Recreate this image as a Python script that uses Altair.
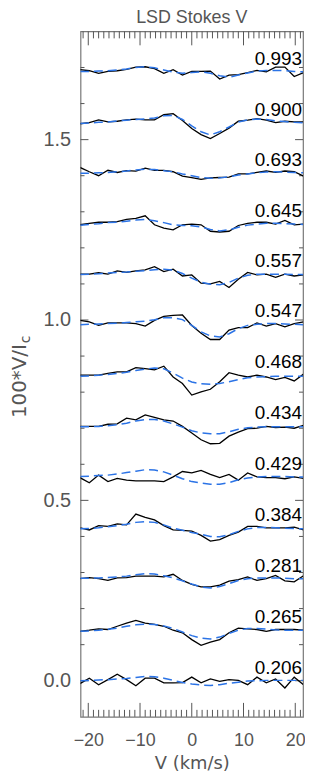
import altair as alt
import pandas as pd

# velocity grid (km/s)
velocity = [-21.6, -19.8, -18.0, -16.2, -14.4, -12.6, -10.8, -9.0, -7.2, -5.4, -3.6, -1.8,
            0.0, 1.8, 3.6, 5.4, 7.2, 9.0, 10.8, 12.6, 14.4, 16.2, 18.0, 19.8, 21.6]

# rotational phases, bottom to top, and vertical offsets of each profile
phases = ["0.206", "0.265", "0.281", "0.384", "0.429", "0.434", "0.468",
          "0.547", "0.557", "0.645", "0.693", "0.900", "0.993"]
offsets = [0.0, 0.14, 0.283, 0.423, 0.565, 0.705, 0.847, 0.99, 1.127, 1.266, 1.408, 1.547, 1.689]

# observed LSD Stokes V (100*V/Ic), relative to offset
obs = {
    "0.993": [0.005, 0.002, -0.005, 0, 0.002, 0.006, 0.012, 0.013, 0.008, -0.005, 0.005, -0.010, 0,
              0, 0.001, -0.021, -0.010, -0.009, -0.003, 0.003, -0.001, 0.012, 0.012, -0.014, -0.003],
    "0.900": [-0.003, 0, 0.008, 0.002, 0.004, 0.008, 0.010, 0.008, 0.008, 0.022, 0.025, 0.006, -0.016,
              -0.033, -0.044, -0.030, -0.015, 0.004, 0.007, 0.011, 0.007, 0, 0.004, 0.002, 0.002],
    "0.693": [0.015, 0.003, -0.008, 0.007, 0.001, 0.006, 0.005, 0.013, 0.007, 0.007, 0.003, -0.009, -0.013,
              -0.018, -0.014, -0.013, -0.012, -0.003, -0.003, 0.001, 0.005, 0.001, 0.005, 0.003, -0.009],
    "0.645": [-0.002, 0.002, 0.005, 0.005, 0.007, 0.013, 0.016, 0.023, -0.002, -0.011, -0.016, -0.002, 0,
              -0.002, -0.020, -0.022, -0.020, -0.004, 0.002, 0.005, 0.005, 0, 0.010, -0.002, 0],
    "0.557": [0, 0, 0.004, 0, 0.009, 0.005, 0.009, 0.012, 0.021, 0.007, 0.014, -0.005, -0.002,
              -0.025, -0.027, -0.020, -0.037, -0.014, 0.005, -0.002, 0, -0.009, 0, -0.005, -0.002],
    "0.547": [0.009, 0.005, -0.005, 0.002, 0.002, 0.002, 0, -0.007, 0.009, 0.020, 0.023, 0.024, -0.005,
              -0.027, -0.044, -0.044, -0.018, -0.011, -0.011, 0.002, -0.007, 0, -0.009, 0, 0.005],
    "0.468": [0, 0, 0, 0.005, 0.009, 0.009, 0.021, 0.018, 0.015, 0.025, -0.005, -0.023, -0.055,
              -0.046, -0.039, -0.018, 0.007, 0, -0.005, 0, -0.005, -0.012, -0.006, -0.016, 0.003],
    "0.434": [0, 0, 0, 0.006, 0.007, 0.023, 0.018, 0.032, 0.025, 0.018, 0.015, 0, -0.018,
              -0.037, -0.048, -0.047, -0.027, -0.016, -0.006, -0.005, 0, -0.003, -0.002, -0.005, 0.003],
    "0.429": [-0.002, -0.016, 0.005, -0.013, -0.004, -0.009, -0.011, -0.011, -0.011, -0.013, 0, 0.015, 0.011,
              0.018, 0.007, -0.002, 0.007, -0.009, 0.011, 0, -0.002, -0.002, -0.005, 0, -0.004],
    "0.384": [0.001, -0.005, 0.007, 0.005, 0.012, 0.009, 0.039, 0.030, 0.023, 0.007, -0.005, -0.006, -0.008,
              -0.020, -0.036, -0.032, -0.020, -0.011, 0.005, 0.005, 0.001, 0.001, 0.001, 0.003, -0.005],
    "0.281": [0, 0.003, 0, -0.005, 0.002, 0.003, 0.007, 0.007, 0.007, 0.005, 0.012, -0.005, -0.016,
              -0.023, -0.023, -0.018, -0.007, -0.003, 0.005, -0.005, 0, 0.009, -0.006, -0.009, 0.008],
    "0.265": [-0.003, 0, 0.004, 0.002, 0.011, 0.020, 0.027, 0.020, 0.016, 0.011, 0, -0.007, -0.026,
              -0.042, -0.033, -0.026, -0.007, 0.006, 0.004, 0.002, -0.003, 0.002, 0.002, 0.002, 0],
    "0.206": [-0.008, 0.007, -0.011, 0.003, 0.018, 0.003, -0.014, 0.007, 0.007, -0.006, -0.006, -0.005, 0.010,
              -0.006, 0.005, -0.002, 0.003, 0.001, -0.011, 0.010, -0.006, 0.005, -0.020, 0.010, -0.011],
}

# model Stokes V fits, relative to offset
model = {
    "0.993": [0, 0, 0.001, 0.002, 0.004, 0.007, 0.011, 0.013, 0.010, 0.004, -0.002, -0.005, -0.003,
              -0.001, -0.005, -0.012, -0.016, -0.010, -0.004, 0.001, 0.003, 0.003, 0.002, 0, -0.001],
    "0.900": [-0.002, -0.001, 0.001, 0.002, 0.005, 0.007, 0.009, 0.010, 0.013, 0.019, 0.020, 0.009, -0.009,
              -0.025, -0.034, -0.025, -0.012, 0.002, 0.008, 0.010, 0.009, 0.005, 0.003, 0.001, 0],
    "0.693": [-0.001, -0.001, 0, 0.001, 0.003, 0.005, 0.008, 0.010, 0.009, 0.006, 0.003, -0.003, -0.008,
              -0.013, -0.015, -0.014, -0.011, -0.006, -0.003, 0, 0.002, 0.003, 0.002, 0.001, 0],
    "0.645": [-0.003, -0.001, 0.001, 0.004, 0.005, 0.008, 0.011, 0.013, 0.009, 0.004, -0.002, -0.004, -0.005,
              -0.008, -0.015, -0.019, -0.016, -0.009, -0.003, 0, 0.002, 0.002, 0.001, 0, -0.001],
    "0.557": [-0.001, 0, 0.001, 0.003, 0.005, 0.006, 0.008, 0.010, 0.012, 0.014, 0.011, 0.002, -0.011,
              -0.022, -0.028, -0.029, -0.023, -0.011, -0.003, 0, 0, 0, 0, -0.001, -0.001],
    "0.547": [-0.003, -0.002, -0.001, 0, 0.001, 0.003, 0.005, 0.007, 0.011, 0.016, 0.016, 0.011, -0.005,
              -0.023, -0.034, -0.037, -0.028, -0.014, -0.005, -0.002, 0, 0, -0.001, -0.002, -0.003],
    "0.468": [-0.003, -0.002, 0, 0.002, 0.005, 0.008, 0.013, 0.017, 0.020, 0.018, 0.006, -0.008, -0.019,
              -0.024, -0.025, -0.023, -0.018, -0.012, -0.007, -0.005, -0.004, -0.003, -0.003, -0.003, -0.003],
    "0.434": [-0.001, -0.001, 0, 0.002, 0.005, 0.009, 0.015, 0.019, 0.019, 0.015, 0.007, -0.002, -0.012,
              -0.018, -0.020, -0.020, -0.015, -0.008, -0.004, -0.002, -0.001, -0.001, -0.001, -0.001, -0.001],
    "0.429": [0.001, 0.002, 0.004, 0.005, 0.008, 0.012, 0.016, 0.020, 0.019, 0.014, 0.005, -0.005, -0.013,
              -0.017, -0.020, -0.020, -0.016, -0.008, -0.003, 0, 0.001, 0.001, 0.001, 0, 0],
    "0.384": [-0.002, -0.001, 0.001, 0.004, 0.007, 0.011, 0.016, 0.018, 0.016, 0.009, 0, -0.006, -0.012,
              -0.017, -0.023, -0.024, -0.018, -0.009, -0.002, 0.002, 0.002, 0.001, 0, -0.001, -0.002],
    "0.281": [0.001, 0.001, 0.002, 0.003, 0.005, 0.007, 0.011, 0.014, 0.013, 0.008, 0.002, -0.006, -0.015,
              -0.023, -0.026, -0.022, -0.014, -0.005, 0, 0.002, 0.002, 0.002, 0.001, 0, 0],
    "0.265": [-0.003, -0.002, 0, 0.003, 0.006, 0.011, 0.015, 0.017, 0.016, 0.012, 0.005, -0.005, -0.015,
              -0.022, -0.024, -0.019, -0.009, 0, 0.005, 0.005, 0.003, 0.001, 0, 0, 0],
    "0.206": [0, 0.001, 0.002, 0.003, 0.005, 0.006, 0.009, 0.012, 0.011, 0.007, 0.001, -0.005, -0.009,
              -0.012, -0.013, -0.011, -0.007, -0.004, -0.001, 0, 0.001, 0.001, 0.001, 0.001, 0.001],
}

x_major = [-20, -10, 0, 10, 20]
x_minor = [-21, -19, -18, -17, -16, -15, -14, -13, -12, -11, -9, -8, -7, -6, -5, -4, -3, -2, -1,
           1, 2, 3, 4, 5, 6, 7, 8, 9, 11, 12, 13, 14, 15, 16, 17, 18, 19, 21]
y_major = [0.0, 0.5, 1.0, 1.5]
y_minor = [0.1, 0.2, 0.3, 0.4, 0.6, 0.7, 0.8, 0.9, 1.1, 1.2, 1.3, 1.4, 1.6, 1.7]

W, H = 224, 690
FONT = "DejaVu Sans"
NUMFONT = "Liberation Sans"
GREY = "#555555"
BLUE = "#2b73e6"

rows = []
for ph, off in zip(phases, offsets):
    for v, o, m in zip(velocity, obs[ph], model[ph]):
        rows.append({"phase": ph, "v": v, "obs": off + o, "model": off + m})
df = pd.DataFrame(rows)
lab = pd.DataFrame({"phase": phases, "offset": offsets})

xs = alt.Scale(domain=[-21.5, 21.5], nice=False, zero=False)
ys = alt.Scale(domain=[-0.1, 1.8], nice=False, zero=False)

X = alt.X("v:Q", scale=xs, title="V (km/s)",
          axis=alt.Axis(values=x_major, ticks=False, domain=False, grid=False,
                        labelFontSize=18, labelPadding=15, labelColor=GREY, labelFont=NUMFONT,
                        titleFont=FONT, titleFontSize=18, titleFontWeight="normal",
                        titleColor=GREY, titleBaseline="alphabetic", titleY=52))
Y = alt.Y("obs:Q", scale=ys, title=None,
          axis=alt.Axis(values=y_major, format=".1f", ticks=False, domain=False, grid=False,
                        labelFontSize=20, labelPadding=10, labelColor=GREY, labelFont=NUMFONT))

obs_line = alt.Chart(df).mark_line(color="black", strokeWidth=1.3, clip=True).encode(
    x=X, y=Y, detail="phase:N")
mod_line = alt.Chart(df).mark_line(color=BLUE, strokeWidth=1.5, strokeDash=[9, 5], clip=True).encode(
    x=alt.X("v:Q", scale=xs), y=alt.Y("model:Q", scale=ys), detail="phase:N")
labels = alt.Chart(lab).mark_text(align="right", baseline="alphabetic", dy=-7, fontSize=19,
                                  font=NUMFONT, color="black").encode(
    x=alt.value(W - 1), y=alt.Y("offset:Q", scale=ys), text="phase:N")


def xticks(vals, length):
    d = pd.DataFrame({"t": vals})
    b = alt.Chart(d).mark_rule(color=GREY, strokeWidth=1).encode(
        x=alt.X("t:Q", scale=xs), y=alt.value(H), y2=alt.value(H - length))
    t = alt.Chart(d).mark_rule(color=GREY, strokeWidth=1).encode(
        x=alt.X("t:Q", scale=xs), y=alt.value(0), y2=alt.value(length))
    return [b, t]


def yticks(vals, length):
    d = pd.DataFrame({"t": vals})
    l = alt.Chart(d).mark_rule(color=GREY, strokeWidth=1).encode(
        y=alt.Y("t:Q", scale=ys), x=alt.value(0), x2=alt.value(length))
    r = alt.Chart(d).mark_rule(color=GREY, strokeWidth=1).encode(
        y=alt.Y("t:Q", scale=ys), x=alt.value(W), x2=alt.value(W - length))
    return [l, r]


ytitle = alt.Chart(pd.DataFrame({"s": ["100*V/I"]})).mark_text(
    angle=270, align="center", baseline="middle", fontSize=20, font=FONT, color=GREY).encode(
    x=alt.value(-61), y=alt.value(352), text="s:N")
ysub = alt.Chart(pd.DataFrame({"s": ["c"]})).mark_text(
    angle=270, align="center", baseline="middle", fontSize=14, font=FONT, color=GREY).encode(
    x=alt.value(-55), y=alt.value(310), text="s:N")

layers = (xticks(x_major, 14) + xticks(x_minor, 7) + yticks(y_major, 8) + yticks(y_minor, 4)
          + [obs_line, mod_line, labels, ytitle, ysub])

chart = alt.layer(*layers).properties(
    width=W, height=H,
    title=alt.Title("LSD Stokes V", font=NUMFONT, fontSize=18, fontWeight="normal", color=GREY, offset=4),
    autosize=alt.AutoSizeParams(type="none"),
    padding={"left": 73, "top": 21, "right": 2, "bottom": 55},
).configure_view(stroke="#777777", strokeWidth=1.2)

chart.save("out.html", embed_options={"renderer": "svg", "actions": False})
